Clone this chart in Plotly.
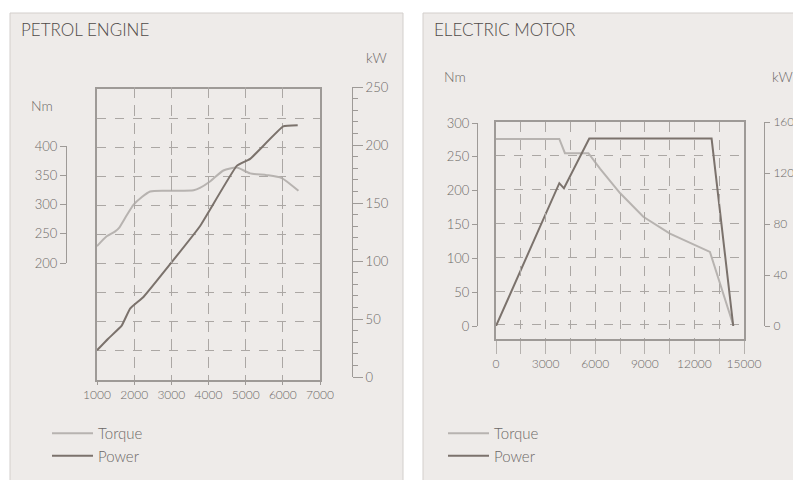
import plotly.graph_objects as go

# page body has an 8px margin; figure runs from there to the window edge
OFF = 8
W, H = 801 - OFF, 480 - OFF

# ---------------- data ----------------
petrol_rpm_torque = [1000, 1260, 1480, 1600, 1800, 1980, 2200, 2430, 3050, 3600, 3770, 4040, 4400, 4760, 5120, 5570, 5970, 6420]
petrol_torque = [230, 247, 255, 262, 283, 301, 314, 324, 325, 326, 330, 341, 360, 365, 355, 352, 347, 325]
petrol_rpm_power = [1000, 1300, 1660, 1890, 2250, 3010, 3770, 4760, 5120, 6010, 6400]
petrol_power = [23, 33, 44, 59, 69, 99, 130, 182, 188, 216, 217]

electric_rpm_torque = [0, 3830, 4170, 5590, 6290, 7500, 8910, 10520, 12940, 14350]
electric_torque = [275, 275, 254, 254, 231, 195, 160, 135, 108, 0]
electric_rpm_power = [0, 3830, 4110, 5640, 13040, 14350]
electric_power = [0, 112, 108, 147, 147, 0]

electric_xticks = list(range(0, 15001, 1500))
electric_xlabels = [str(v) if v % 3000 == 0 else "" for v in electric_xticks]

titles = ["PETROL ENGINE", "ELECTRIC MOTOR"]
series_names = ["Torque", "Power"]

# ---------------- style ----------------
FONT = "Lato"
WEIGHT = 300
PANEL = "#EEEBE9"
BORDER = "#D3CFCC"
GRID = "#ABA7A4"
AXIS = "#9E9A97"
TXT = "#6C6866"
TITLE = "#4E4A48"
TORQUE_C = "#B7B3B0"
POWER_C = "#7B726C"


def px(x):
    return (x - OFF) / W


def py(y):
    return 1 - (y - OFF) / H


def f(size, color=TXT):
    return dict(family=FONT, size=size, color=color, weight=WEIGHT)


fig = go.Figure()

# petrol
fig.add_trace(go.Scatter(x=petrol_rpm_torque, y=petrol_torque, name=series_names[0], mode="lines",
                         line=dict(color=TORQUE_C, width=2, shape="spline", smoothing=0.6),
                         xaxis="x", yaxis="y", legend="legend", legendgroup="a", hoverinfo="skip"))
fig.add_trace(go.Scatter(x=petrol_rpm_power, y=petrol_power, name=series_names[1], mode="lines",
                         line=dict(color=POWER_C, width=2, shape="spline", smoothing=0.3),
                         xaxis="x", yaxis="y2", legend="legend", legendgroup="b", hoverinfo="skip"))
fig.add_trace(go.Scatter(x=[None], y=[None], xaxis="x", yaxis="y3", showlegend=False, hoverinfo="skip"))

# electric
fig.add_trace(go.Scatter(x=electric_rpm_torque, y=electric_torque, name=series_names[0], mode="lines",
                         line=dict(color=TORQUE_C, width=2),
                         xaxis="x2", yaxis="y4", legend="legend2", legendgroup="c", hoverinfo="skip"))
fig.add_trace(go.Scatter(x=electric_rpm_power, y=electric_power, name=series_names[1], mode="lines",
                         line=dict(color=POWER_C, width=2),
                         xaxis="x2", yaxis="y5", legend="legend2", legendgroup="d", hoverinfo="skip"))
fig.add_trace(go.Scatter(x=[None], y=[None], xaxis="x2", yaxis="y6", showlegend=False, hoverinfo="skip"))

tickfont = f(12)
ytickfont = f(13)

fig.update_layout(
    width=W, height=H,
    margin=dict(l=0, r=0, t=0, b=0, autoexpand=False),
    paper_bgcolor="white",
    plot_bgcolor="rgba(0,0,0,0)",
    font=f(12),
    # ---- petrol axes ----
    xaxis=dict(domain=[px(97), px(320)], range=[1000, 7000], tick0=1000, dtick=1000, anchor="y",
               showgrid=True, gridcolor=GRID, griddash="dash", gridwidth=1,
               showline=True, linecolor=AXIS, linewidth=2, mirror=True, automargin=False,
               ticks="outside", ticklen=3, tickcolor=AXIS, tickfont=tickfont, zeroline=False),
    yaxis=dict(domain=[py(380), py(89)], range=[0, 500], tick0=0, dtick=50, anchor="x",
               showgrid=True, gridcolor=GRID, griddash="dash", gridwidth=1,
               showline=True, linecolor=AXIS, linewidth=2, mirror=True, automargin=False,
               showticklabels=False, ticks="", zeroline=False),
    yaxis2=dict(domain=[py(377), py(87)], range=[0, 250], dtick=50, anchor="free", position=px(352),
                side="right", showgrid=False, showline=True, linecolor=AXIS, linewidth=1, automargin=False,
                ticks="outside", ticklen=10, tickcolor=AXIS, tickfont=ytickfont, zeroline=False,
                minor=dict(dtick=10, ticks="outside", ticklen=5, tickcolor=AXIS, showgrid=False)),
    yaxis3=dict(domain=[py(263), py(146)], range=[200, 400], dtick=50, anchor="free", position=px(66),
                side="left", showgrid=False, showline=True, linecolor=AXIS, linewidth=1, automargin=False,
                ticks="outside", ticklen=6, tickcolor=AXIS, tickfont=ytickfont, zeroline=False),
    # ---- electric axes ----
    xaxis2=dict(domain=[px(496), px(744)], range=[0, 15000], tickvals=electric_xticks, ticktext=electric_xlabels,
                anchor="y4", showgrid=True, gridcolor=GRID, griddash="dash", gridwidth=1,
                showline=True, linecolor=AXIS, linewidth=2, mirror=True, automargin=False,
                ticks="outside", ticklen=13, tickcolor="#B5B1AE", tickfont=tickfont, zeroline=False),
    yaxis4=dict(domain=[py(339), py(122)], range=[-20.7, 300], tick0=0, dtick=50, anchor="x2",
                showgrid=True, gridcolor=GRID, griddash="dash", gridwidth=1,
                showline=True, linecolor=AXIS, linewidth=2, mirror=True, automargin=False,
                showticklabels=False, ticks="", zeroline=False),
    yaxis5=dict(domain=[py(326), py(122)], range=[0, 160], dtick=40, anchor="free", position=px(764),
                side="right", showgrid=False, showline=True, linecolor=AXIS, linewidth=1, automargin=False,
                ticks="outside", ticklen=5, tickcolor=AXIS, tickfont=f(12), zeroline=False,
                ticklabelstandoff=1, ticklabeloverflow="allow"),
    yaxis6=dict(domain=[py(326), py(123)], range=[0, 300], dtick=50, anchor="free", position=px(477),
                side="left", showgrid=False, showline=True, linecolor=AXIS, linewidth=1, automargin=False,
                ticks="outside", ticklen=5, tickcolor=AXIS, tickfont=ytickfont, zeroline=False),
    legend=dict(x=px(47), y=py(417), xanchor="left", yanchor="top", bgcolor="rgba(0,0,0,0)",
                font=f(15), tracegroupgap=9, traceorder="normal", itemwidth=41),
    legend2=dict(x=px(443), y=py(417), xanchor="left", yanchor="top", bgcolor="rgba(0,0,0,0)",
                 font=f(15), tracegroupgap=9, traceorder="normal", itemwidth=41),
    showlegend=True,
    shapes=[
        dict(type="rect", xref="paper", yref="paper", x0=px(10), x1=px(403), y0=-0.05, y1=py(13),
             fillcolor=PANEL, line=dict(color=BORDER, width=1), layer="below"),
        dict(type="rect", xref="paper", yref="paper", x0=px(423), x1=1.05, y0=-0.05, y1=py(13),
             fillcolor=PANEL, line=dict(color=BORDER, width=1), layer="below"),
    ],
    annotations=[
        dict(text=titles[0], x=px(19), y=py(30), xref="paper", yref="paper", xanchor="left", yanchor="middle",
             showarrow=False, font=f(17, TITLE)),
        dict(text=titles[1], x=px(432), y=py(30), xref="paper", yref="paper", xanchor="left", yanchor="middle",
             showarrow=False, font=f(17, TITLE)),
        dict(text="kW", x=px(389), y=py(57), xref="paper", yref="paper", xanchor="right", yanchor="middle",
             showarrow=False, font=f(14)),
        dict(text="Nm", x=px(29), y=py(105), xref="paper", yref="paper", xanchor="left", yanchor="middle",
             showarrow=False, font=f(14)),
        dict(text="Nm", x=px(442), y=py(77), xref="paper", yref="paper", xanchor="left", yanchor="middle",
             showarrow=False, font=f(14)),
        dict(text="kW", x=px(795), y=py(77), xref="paper", yref="paper", xanchor="right", yanchor="middle",
             showarrow=False, font=f(14)),
    ],
)

fig.write_html("out.html")
